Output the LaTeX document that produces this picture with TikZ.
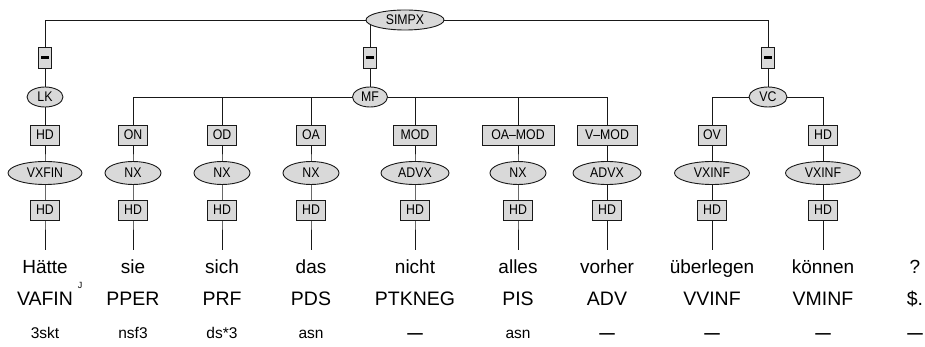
\documentclass[tikz,border=0pt]{standalone}
\usepackage{fontspec}
\setmainfont{Liberation Sans}
\newfontfamily\nodefont[FakeStretch=0.88]{Liberation Sans}
\usetikzlibrary{shapes.geometric,backgrounds}
\definecolor{nodegray}{RGB}{217,217,217}
\definecolor{linec}{RGB}{25,25,25}
\begin{document}
\begin{tikzpicture}[x=1pt,y=-1pt,
  boxlbl/.style={draw=linec,fill=nodegray,line width=0.9pt,rectangle,inner sep=0pt,
    minimum height=20pt,minimum width=#1,font=\nodefont\fontsize{14}{14}\selectfont},
  boxlbl/.default=29pt,
  dashbox/.style={draw=linec,fill=nodegray,line width=0.9pt,rectangle,inner sep=0pt,
    minimum height=21pt,minimum width=12.5pt},
  catnode/.style={draw=linec,fill=nodegray,line width=0.9pt,ellipse,inner sep=0pt,
    minimum height=23pt,minimum width=#1,font=\nodefont\fontsize{14}{14}\selectfont},
  topnode/.style={draw=linec,fill=nodegray,line width=0.9pt,ellipse,inner sep=0pt,
    minimum height=20pt,minimum width=#1,font=\nodefont\fontsize{14}{14}\selectfont},
  edgeline/.style={draw=linec,line width=0.9pt},
  wordt/.style={anchor=base,inner sep=0pt,font=\fontsize{19}{19}\selectfont},
  post/.style={anchor=base,inner sep=0pt,font=\fontsize{19.5}{19.5}\selectfont},
  morpht/.style={anchor=base,inner sep=0pt,font=\fontsize{15.5}{15.5}\selectfont}
]
\useasboundingbox (0,0) rectangle (925,347);

% top level
\node[topnode=78pt] (simpx) at (405,20) {SIMPX};
\node[dashbox] (d1) at (45,58) {\rule{8pt}{3pt}};
\node[dashbox] (d2) at (370,58) {\rule{8pt}{3pt}};
\node[dashbox] (d3) at (768,58) {\rule{8pt}{3pt}};
\node[topnode=36pt] (lk) at (45,97) {LK};
\node[topnode=35pt] (mf) at (370,97) {MF};
\node[topnode=38pt] (vc) at (768,97) {VC};

% function labels
\node[boxlbl] (f1) at (45,135) {HD};
\node[boxlbl] (f2) at (133,135) {ON};
\node[boxlbl] (f3) at (222,135) {OD};
\node[boxlbl] (f4) at (311,135) {OA};
\node[boxlbl=43pt] (f5) at (415,135) {MOD};
\node[boxlbl=72pt] (f6) at (518,135) {OA–MOD};
\node[boxlbl=60pt] (f7) at (607,135) {V–MOD};
\node[boxlbl=28pt] (f8) at (712,135) {OV};
\node[boxlbl] (f9) at (823,135) {HD};

% categories
\node[catnode=74pt] (c1) at (45,173) {VXFIN};
\node[catnode=56pt] (c2) at (133,173) {NX};
\node[catnode=56pt] (c3) at (222,173) {NX};
\node[catnode=56pt] (c4) at (311,173) {NX};
\node[catnode=68pt] (c5) at (415,173) {ADVX};
\node[catnode=56pt] (c6) at (518,173) {NX};
\node[catnode=68pt] (c7) at (607,173) {ADVX};
\node[catnode=75pt] (c8) at (712,173) {VXINF};
\node[catnode=75pt] (c9) at (823,173) {VXINF};

% head boxes and leaf ends
\foreach \i/\x in {1/45,2/133,3/222,4/311,5/415,6/518,7/607,8/712,9/823}{
  \node[boxlbl] (h\i) at (\x,210) {HD};
  \coordinate (e\i) at (\x,250);
}

% words
\foreach \i/\x/\w/\p/\m in {1/45/Hätte/VAFIN/3skt,2/133/sie/PPER/nsf3,3/222/sich/PRF/ds*3,
  4/311/das/PDS/asn,5/415/nicht/PTKNEG/\textbf{—},6/518/alles/PIS/asn,7/607/vorher/ADV/\textbf{—},
  8/712/überlegen/VVINF/\textbf{—},9/823/können/VMINF/\textbf{—},10/915/?/\$./\textbf{—}}{
  \node[wordt] (w\i) at (\x,273) {\w};
  \node[post] (p\i) at (\x,305) {\p};
  \node[morpht] (m\i) at (\x,338) {\m};
}
\node[inner sep=0pt,font=\fontsize{9}{9}\selectfont] (stray) at (80,285) {J};

\begin{scope}[on background layer]
  \draw[edgeline] (simpx.center) -| (d1.center);
  \draw[edgeline] (simpx.center) -| (d2.center);
  \draw[edgeline] (simpx.center) -| (d3.center);
  \draw[edgeline] (d1.center) -- (lk.center);
  \draw[edgeline] (d2.center) -- (mf.center);
  \draw[edgeline] (d3.center) -- (vc.center);
  \draw[edgeline] (lk.center) -- (f1.center);
  \foreach \i in {2,...,7}{\draw[edgeline] (mf.center) -| (f\i.center);}
  \foreach \i in {8,9}{\draw[edgeline] (vc.center) -| (f\i.center);}
  \foreach \i in {1,...,9}{
    \draw[edgeline] (f\i.center) -- (c\i.center) -- (h\i.center) -- (e\i);
  }
\end{scope}
\end{tikzpicture}
\end{document}
